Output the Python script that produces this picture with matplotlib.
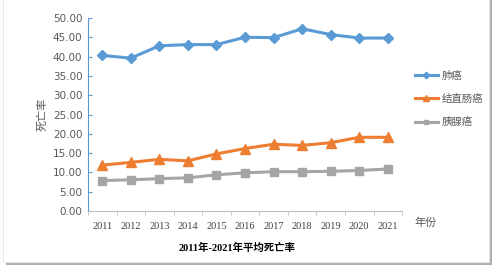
import matplotlib.pyplot as plt
from matplotlib.patches import Rectangle

plt.rcParams['font.family'] = ['Noto Sans CJK SC', 'DejaVu Sans']

years = ['2011', '2012', '2013', '2014', '2015', '2016', '2017', '2018', '2019', '2020', '2021']
lung = [40.3, 39.6, 42.8, 43.1, 43.1, 45.0, 44.9, 47.2, 45.7, 44.8, 44.8]
colorectal = [11.9, 12.6, 13.4, 13.0, 14.8, 16.2, 17.3, 17.0, 17.7, 19.1, 19.1]
pancreas = [7.9, 8.1, 8.4, 8.6, 9.4, 9.9, 10.2, 10.2, 10.3, 10.5, 10.9]
names = ['肺癌', '结直肠癌', '胰腺癌']
yticks = [0, 5, 10, 15, 20, 25, 30, 35, 40, 45, 50]

fig = plt.figure(figsize=(4.97, 2.72), dpi=100)

# panel with shadow
fig.patches.append(Rectangle((0.012, 0.025), 0.978, 0.985, transform=fig.transFigure,
                             facecolor='#b0b0b0', edgecolor='none', zorder=-3))
fig.patches.append(Rectangle((0.006, 0.035), 0.978, 0.98, transform=fig.transFigure,
                             facecolor='white', edgecolor='#e6e6e6', lw=0.6, zorder=-2))

ax = fig.add_axes([0.177, 0.224, 0.632, 0.71])
ax.set_facecolor('none')
x = list(range(len(years)))
ax.plot(x, lung, color='#5B9BD5', lw=2.2, marker='D', ms=5.5, label=names[0])
ax.plot(x, colorectal, color='#ED7D31', lw=2.2, marker='^', ms=7, label=names[1])
ax.plot(x, pancreas, color='#A5A5A5', lw=2.2, marker='s', ms=6, label=names[2])

ax.set_xlim(-0.5, len(years) - 0.5)
ax.set_ylim(0, 50)
ax.set_yticks(yticks)
ax.set_yticklabels(['%.2f' % v for v in yticks], fontsize=7.5, color='#595959',
                   family=['DejaVu Sans'])
ax.set_xticks(x)
ax.set_xticklabels(years, fontsize=7.5, color='#404040', family=['Liberation Serif'])
ax.set_xticks([i + 0.5 for i in range(-1, len(years))], minor=True)
ax.tick_params(axis='x', which='major', length=0, pad=8)
ax.tick_params(axis='x', which='minor', length=3, color='#bfbfbf', direction='out')
ax.tick_params(axis='y', length=3, color='#5B9BD5', direction='in', pad=4)

for s in ['top', 'right']:
    ax.spines[s].set_visible(False)
ax.spines['left'].set_color('#5B9BD5')
ax.spines['bottom'].set_color('#bfbfbf')

ax.set_ylabel('死亡率', fontsize=8, color='#595959', labelpad=4)
fig.text(0.856, 0.18, '年份', fontsize=8, color='#595959', ha='center', va='center')
fig.text(0.477, 0.088, '2011年-2021年平均死亡率', fontsize=7.5, fontweight='bold',
         color='#000000', ha='center', va='center',
         family=['Liberation Serif', 'Noto Sans CJK SC'])

ax.legend(loc='center left', bbox_to_anchor=(1.01, 0.58), frameon=False, fontsize=7.5,
          labelcolor='#595959', handlelength=2.2, markerscale=0.6, labelspacing=1.25,
          handletextpad=0.4)

fig.savefig('out.png', dpi=100)
